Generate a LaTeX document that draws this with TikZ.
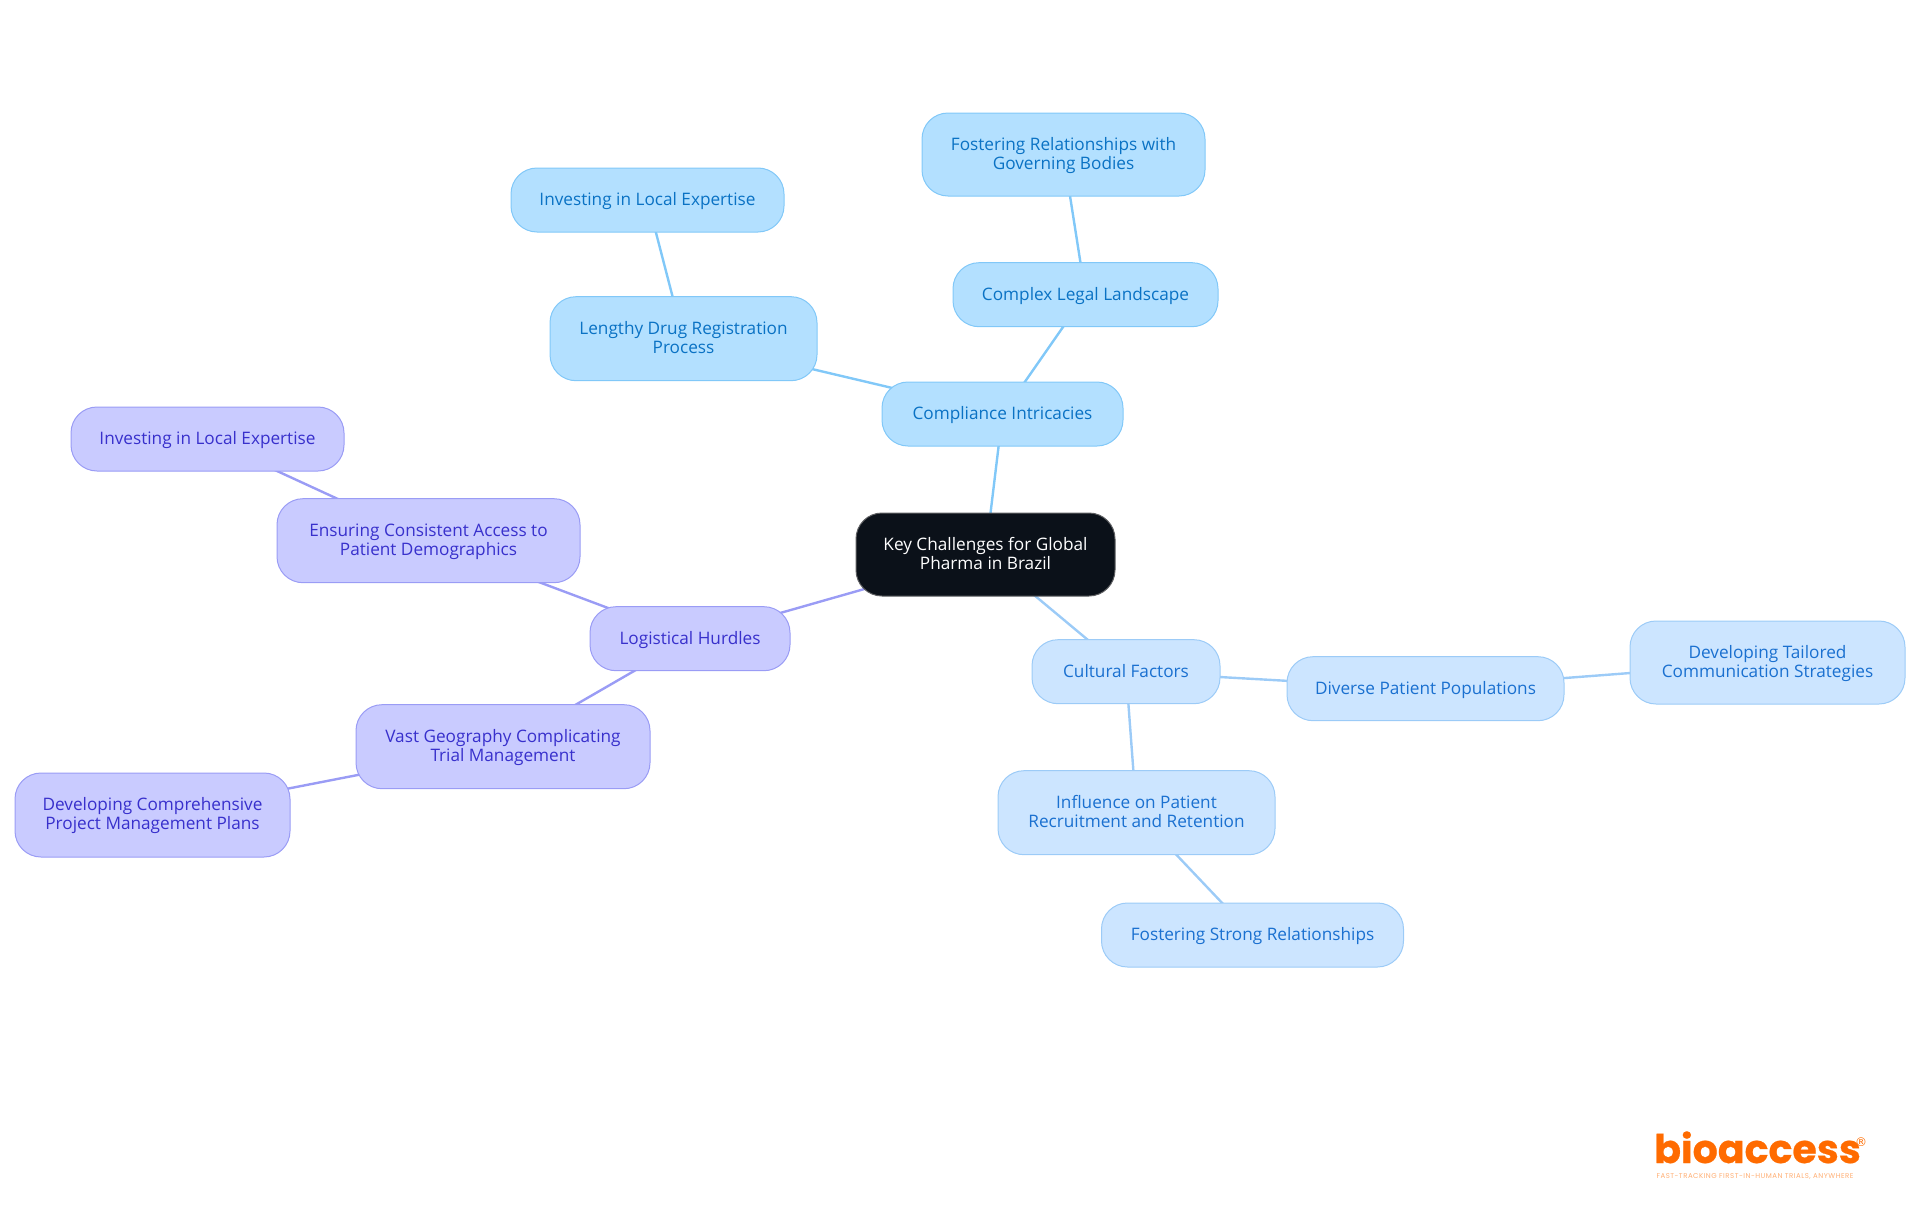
\documentclass[tikz,border=0pt]{standalone}
\usepackage{fontspec}
\setmainfont{Open Sans}
\newfontfamily\logofont[FakeBold=0.6]{Poppins}
\newfontfamily\regfont{DejaVu Sans}
\newfontfamily\tagfont[LetterSpace=7]{Poppins}
\usetikzlibrary{backgrounds}
\definecolor{blueF}{HTML}{B3E0FF}
\definecolor{blueS}{HTML}{81C8F8}
\definecolor{blueT}{HTML}{0A72C4}
\definecolor{skyF}{HTML}{CCE5FF}
\definecolor{skyS}{HTML}{9CCBF7}
\definecolor{skyT}{HTML}{1A70D0}
\definecolor{purF}{HTML}{C9CBFF}
\definecolor{purS}{HTML}{9A9CF5}
\definecolor{purT}{HTML}{3830CC}
\definecolor{rootF}{HTML}{0B1119}
\definecolor{logoC}{HTML}{FF6B00}
\newcommand{\oneln}[1]{\makebox[0pt]{\raisebox{-5.3pt}[0pt][0pt]{#1}}}
\newcommand{\twoln}[2]{\makebox[0pt]{\raisebox{4.2pt}[0pt][0pt]{#1}}\makebox[0pt]{\raisebox{-14.8pt}[0pt][0pt]{#2}}}
\tikzset{
  mm/.style={draw,line width=1pt,rounded corners=26pt,inner sep=0pt,
    font=\fontsize{17.2}{19}\selectfont},
  bluebox/.style={mm,fill=blueF,draw=blueS,text=blueT},
  skybox/.style={mm,fill=skyF,draw=skyS,text=skyT},
  purbox/.style={mm,fill=purF,draw=purS,text=purT},
  rootbox/.style={mm,fill=rootF,draw=gray!70!rootF,text=white},
  blueln/.style={draw=blueS,line width=2.4pt},
  skyln/.style={draw=skyS,line width=2.4pt},
  purln/.style={draw=purS,line width=2.4pt},
}
\begin{document}
\begin{tikzpicture}[x=1pt,y=-1pt]
\useasboundingbox (0,0) rectangle (1920,1215);
\node[rootbox,minimum width=259pt,minimum height=83pt] (root) at (985.5,554.5) {\twoln{Key Challenges for Global}{Pharma in Brazil}};
\node[bluebox,minimum width=241pt,minimum height=64pt] (comp) at (1002.5,414) {\oneln{Compliance Intricacies}};
\node[bluebox,minimum width=265pt,minimum height=64pt] (legal) at (1085.5,294.7) {\oneln{Complex Legal Landscape}};
\node[bluebox,minimum width=283pt,minimum height=83pt] (govern) at (1063.5,154.5) {\twoln{Fostering Relationships with}{Governing Bodies}};
\node[bluebox,minimum width=267pt,minimum height=84pt] (drug) at (683.5,338.7) {\twoln{Lengthy Drug Registration}{Process}};
\node[bluebox,minimum width=273pt,minimum height=64pt] (invA) at (647.5,200) {\oneln{Investing in Local Expertise}};
\node[purbox,minimum width=200pt,minimum height=64pt] (logi) at (690,638.7) {\oneln{Logistical Hurdles}};
\node[purbox,minimum width=303pt,minimum height=84pt] (ensure) at (428.5,540.7) {\twoln{Ensuring Consistent Access to}{Patient Demographics}};
\node[purbox,minimum width=273pt,minimum height=64pt] (invB) at (207.5,439) {\oneln{Investing in Local Expertise}};
\node[purbox,minimum width=294pt,minimum height=84pt] (vast) at (503,746.7) {\twoln{Vast Geography Complicating}{Trial Management}};
\node[purbox,minimum width=275pt,minimum height=84pt] (plans) at (152.5,815) {\twoln{Developing Comprehensive}{Project Management Plans}};
\node[skybox,minimum width=188pt,minimum height=64pt] (cult) at (1126,671.7) {\oneln{Cultural Factors}};
\node[skybox,minimum width=277pt,minimum height=64pt] (diverse) at (1425.5,688.7) {\oneln{Diverse Patient Populations}};
\node[skybox,minimum width=275pt,minimum height=83pt] (tailor) at (1767.5,662.5) {\twoln{Developing Tailored}{Communication Strategies}};
\node[skybox,minimum width=277pt,minimum height=84pt] (recruit) at (1136.5,812.7) {\twoln{Influence on Patient}{Recruitment and Retention}};
\node[skybox,minimum width=302pt,minimum height=64pt] (strong) at (1252.5,935) {\oneln{Fostering Strong Relationships}};
\begin{scope}[on background layer]
\draw[blueln] (root.center) -- (comp.center);
\draw[blueln] (comp.center) -- (legal.center);
\draw[blueln] (legal.center) -- (govern.center);
\draw[blueln] (comp.center) -- (drug.center);
\draw[blueln] (drug.center) -- (invA.center);
\draw[purln] (root.center) -- (logi.center);
\draw[purln] (logi.center) -- (ensure.center);
\draw[purln] (ensure.center) -- (invB.center);
\draw[purln] (logi.center) -- (vast.center);
\draw[purln] (vast.center) -- (plans.center);
\draw[skyln] (root.center) -- (cult.center);
\draw[skyln] (cult.center) -- (diverse.center);
\draw[skyln] (diverse.center) -- (tailor.center);
\draw[skyln] (cult.center) -- (recruit.center);
\draw[skyln] (recruit.center) -- (strong.center);
\end{scope}
\node[inner sep=0pt,anchor=base west,text=logoC,font=\logofont\bfseries\fontsize{39.5}{39.5}\selectfont] (logo) at (1654,1163) {bioaccess};
\node[inner sep=0pt,anchor=center,text=logoC,font=\regfont\fontsize{12}{12}\selectfont] (reg) at (1861,1142) {®};
\node[inner sep=0pt,anchor=center,text=logoC!55,font=\tagfont\fontsize{7}{7}\selectfont] (tag) at (1755,1177) {FAST-TRACKING FIRST-IN-HUMAN TRIALS, ANYWHERE};
\end{tikzpicture}
\end{document}
